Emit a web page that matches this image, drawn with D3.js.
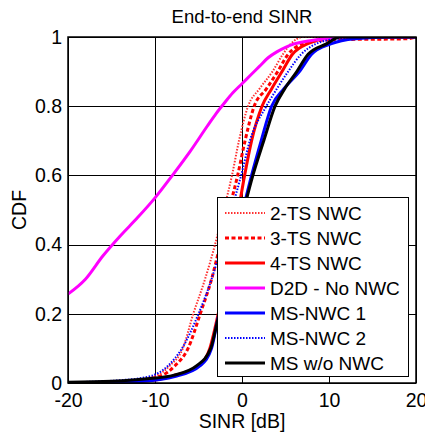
<!DOCTYPE html>
<meta charset="utf-8">
<html>
<head>
<script src="https://cdn.jsdelivr.net/npm/d3@7"></script>
<style>
body { margin:0; background:white; }
text { font-family:"Liberation Sans", Arial, sans-serif; fill:black; }
.grid line { stroke:#000; stroke-width:1; shape-rendering:crispEdges; }
.grid path { stroke:none; }
.curve { fill:none; }
</style>
</head>
<body>
<script>

// Data: SINR [dB] and the CDF at that point
var sinr2TS = [-20, -14, -10, -8.3, -6.8, -5.6, -4.25, -3.1, -2.1, -1.15, -0.35, 0.7, 2.0, 3.5, 4.7, 5.6, 7, 20];
var cdf2TS  = [0, 0.005, 0.02, 0.05, 0.1, 0.2, 0.3, 0.4, 0.5, 0.6, 0.7, 0.8, 0.85, 0.9, 0.95, 0.98, 1, 1];

var sinr3TS = [-20, -13, -9.4, -7.7, -6.2, -4.8, -3.5, -2.5, -1.5, -0.5, 0.35, 1.4, 2.8, 4.1, 5.3, 7, 10, 19, 20];
var cdf3TS  = [0, 0.004, 0.02, 0.05, 0.1, 0.2, 0.3, 0.4, 0.5, 0.6, 0.7, 0.8, 0.85, 0.9, 0.95, 0.98, 0.992, 0.995, 1];

var sinr4TS = [-20, -12, -8.0, -5.0, -3.7, -3.0, -1.9, -1.1, -0.4, 0.3, 1.1, 2.3, 3.4, 4.6, 5.8, 7.5, 11, 20];
var cdf4TS  = [0, 0.004, 0.02, 0.05, 0.1, 0.17, 0.3, 0.4, 0.5, 0.6, 0.7, 0.8, 0.85, 0.9, 0.95, 0.98, 1, 1];

var sinrD2D = [-20, -18, -16, -14, -12, -10, -8, -6, -4, -3, -2, -1, 0, 1, 2, 3, 4, 5, 6, 8, 10, 12, 20];
var cdfD2D  = [0.257, 0.30, 0.367, 0.425, 0.478, 0.535, 0.60, 0.668, 0.742, 0.778, 0.81, 0.84, 0.865, 0.89, 0.915, 0.94, 0.957, 0.97, 0.98, 0.99, 0.996, 1, 1];

var sinrMS1 = [-20, -12, -7.5, -4.8, -3.5, -2.9, -1.8, -0.9, 0.1, 1.1, 2.2, 3.4, 4.8, 6.6, 8.0, 10.2, 13, 17, 20];
var cdfMS1  = [0, 0.004, 0.02, 0.05, 0.1, 0.17, 0.3, 0.4, 0.5, 0.6, 0.7, 0.8, 0.85, 0.9, 0.95, 0.98, 0.995, 1, 1];

var sinrMS2 = [-20, -14, -10.5, -8.5, -6.9, -5.0, -3.5, -2.3, -1.2, -0.1, 0.9, 2.8, 4.0, 5.3, 6.8, 8.5, 11, 14, 20];
var cdfMS2  = [0.002, 0.008, 0.02, 0.05, 0.1, 0.2, 0.3, 0.4, 0.5, 0.6, 0.7, 0.8, 0.85, 0.9, 0.95, 0.98, 0.995, 1, 1];

var sinrMS  = [-20, -15, -10.6, -7.9, -5.2, -3.6, -2.9, -1.7, -0.8, 0.2, 1.25, 2.5, 3.8, 4.9, 6.3, 7.6, 9.7, 11.3, 20];
var cdfMS   = [0.002, 0.005, 0.013, 0.022, 0.05, 0.1, 0.17, 0.3, 0.4, 0.5, 0.6, 0.7, 0.8, 0.85, 0.9, 0.95, 0.98, 1, 1];

var names = ["2-TS NWC", "3-TS NWC", "4-TS NWC", "D2D - No NWC", "MS-NWC 1", "MS-NWC 2", "MS w/o NWC"];
var xTicks = [-20, -10, 0, 10, 20];
var yTicks = [0, 0.2, 0.4, 0.6, 0.8, 1];

var series = [
  {name:names[0], x:sinr2TS, y:cdf2TS, color:"#ff3030", width:2, dash:"1.5,1.5"},
  {name:names[1], x:sinr3TS, y:cdf3TS, color:"#ff0000", width:3, dash:"4,2.5"},
  {name:names[2], x:sinr4TS, y:cdf4TS, color:"#ff0000", width:3, dash:null},
  {name:names[3], x:sinrD2D, y:cdfD2D, color:"#ff00ff", width:3, dash:null},
  {name:names[4], x:sinrMS1, y:cdfMS1, color:"#0000ff", width:3, dash:null},
  {name:names[5], x:sinrMS2, y:cdfMS2, color:"#0000ff", width:2, dash:"1.5,1.5"},
  {name:names[6], x:sinrMS,  y:cdfMS,  color:"#000000", width:3, dash:null}
];

//Margin conventions
var m = {top:37, right:9, bottom:50, left:68},
    w = 425 - m.left - m.right,
    h = 433 - m.top - m.bottom;

var svgRoot = d3.select("body").append("svg")
    .attr("width", 425)
    .attr("height", 433);

var svg = svgRoot.append("g")
    .attr("transform", `translate(${m.left}, ${m.top})`);

var x = d3.scaleLinear().domain([-20, 20]).range([0, w]);
var y = d3.scaleLinear().domain([0, 1]).range([h, 0]);

//Grid + ticks
svg.append("g")
    .attr("class", "grid axis")
    .attr("transform", `translate(0, ${h})`)
    .call(d3.axisBottom(x).tickValues(xTicks).tickSize(-h).tickPadding(10).tickFormat(d => d));

svg.append("g")
    .attr("class", "grid axis")
    .call(d3.axisLeft(y).tickValues(yTicks).tickSize(-w).tickPadding(6).tickFormat(d => d));

svg.selectAll(".axis text")
    .style("font-size", "19.5px")
    .style("font-family", "'Liberation Sans', Arial, sans-serif");

//Clip
svgRoot.append("defs").append("clipPath").attr("id", "clip")
  .append("rect").attr("width", w).attr("height", h);

var line = d3.line()
    .x(d => x(d[0]))
    .y(d => y(d[1]))
    .curve(d3.curveMonotoneX);

svg.append("g").attr("clip-path", "url(#clip)")
  .selectAll("path")
  .data(series)
  .enter()
  .append("path")
    .attr("class", "curve")
    .attr("d", s => line(s.x.map((v, i) => [v, s.y[i]])))
    .attr("stroke", s => s.color)
    .attr("stroke-width", s => s.width)
    .attr("stroke-dasharray", s => s.dash);

//Frame
svg.append("rect")
    .attr("width", w).attr("height", h)
    .attr("fill", "none").attr("stroke", "#000").attr("stroke-width", 1.5);

//Legend
var lg = svgRoot.append("g");
lg.append("rect")
    .attr("x", 217.5).attr("y", 197.5)
    .attr("width", 191).attr("height", 179)
    .attr("fill", "white").attr("stroke", "#000").attr("stroke-width", 1);

var entry = lg.selectAll(".entry")
  .data(series)
  .enter()
  .append("g")
    .attr("transform", (s, i) => `translate(0, ${213 + i * 25})`);

entry.append("line")
    .attr("x1", 225).attr("x2", 265)
    .attr("stroke", s => s.color)
    .attr("stroke-width", s => s.width)
    .attr("stroke-dasharray", s => s.dash);

entry.append("text")
    .attr("x", 270)
    .attr("dy", "0.35em")
    .style("font-size", "19px")
    .text(s => s.name);

//Titles
svgRoot.append("text")
    .attr("x", m.left + w / 2).attr("y", 23)
    .attr("text-anchor", "middle")
    .style("font-size", "18.5px")
    .text("End-to-end SINR");

svgRoot.append("text")
    .attr("x", m.left + w / 2).attr("y", 428)
    .attr("text-anchor", "middle")
    .style("font-size", "19.5px")
    .text("SINR [dB]");

svgRoot.append("text")
    .attr("transform", `translate(26, ${m.top + h / 2}) rotate(-90)`)
    .attr("text-anchor", "middle")
    .style("font-size", "19.5px")
    .text("CDF");

</script>
</body>
</html>
